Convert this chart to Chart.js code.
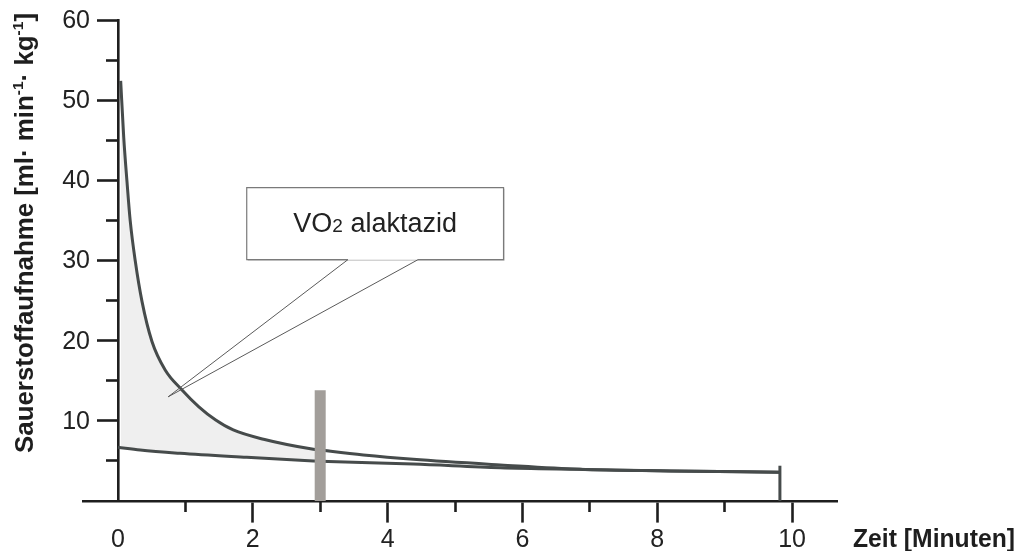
<!DOCTYPE html>
<html>
<head>
<meta charset="utf-8">
<script src="https://cdn.jsdelivr.net/npm/chart.js@4.4.0/dist/chart.umd.min.js"></script>
<style>
  html, body { margin: 0; padding: 0; background: #fff; }
</style>
</head>
<body>
<canvas id="myChart" width="1022" height="551"></canvas>
<script>
// Sauerstoffaufnahme (ml/min/kg) over Zeit (Minuten)
const upperX = [0.04, 0.085, 0.134, 0.182, 0.257, 0.356, 0.504, 0.7, 0.95, 1.2, 1.45, 1.71, 2.16, 2.9, 3, 3.64, 4.38, 5.67, 6.85, 8.2, 9.82];
const upperY = [52.4, 45.4, 39.8, 34.9, 29.9, 24.9, 19.9, 16.35, 13.85, 11.75, 10.1, 8.86, 7.7, 6.45, 6.35, 5.74, 5.2, 4.5, 3.95, 3.75, 3.58];
const lowerX = [0, 0.33, 0.92, 1.91, 2.9, 3, 4.38, 5.67, 6.85, 8.2, 9.82];
const lowerY = [6.7, 6.35, 5.95, 5.45, 4.99, 4.95, 4.6, 4.15, 3.95, 3.75, 3.58];

// gray bar at 3 min and end marker
const barX = [3, 3];
const barY = [0, 13.8];
const endX = [9.82, 9.82];
const endY = [0, 4.4];

const fillUntil = 3;

const xMajorTicks = [0, 2, 4, 6, 8, 10];
const xMinorTicks = [1, 3, 5, 7, 9];
const yMajorTicks = [10, 20, 30, 40, 50, 60];
const yMinorTicks = [5, 15, 25, 35, 45, 55];

const calloutText = ['VO', '2', ' alaktazid'];
const xTitle = 'Zeit [Minuten]';
const yTitle = [['Sauerstoffaufnahme [ml· min', false], ['-1', true], ['· kg', false], ['-1', true], [']', false]];

// callout placed in data units
const callout = { left: 1.91, right: 5.72, top: 39.1, bottom: 30.1, baseA: 3.41, baseB: 4.45, tipX: 0.745, tipY: 13.0 };

const family = '"Liberation Sans", Arial, sans-serif';
const axisColor = '#1e1e1e';
const lineColor = '#464b4b';

const pts = (xs, ys) => xs.map((x, i) => ({ x: x, y: ys[i] }));

const decor = {
  id: 'decor',
  afterDatasetsDraw(chart) {
    const ctx = chart.ctx;
    const xs = chart.scales.x, ys = chart.scales.y;
    const L = xs.getPixelForValue(callout.left), R = xs.getPixelForValue(callout.right);
    const T = ys.getPixelForValue(callout.top), B = ys.getPixelForValue(callout.bottom);
    const b1 = xs.getPixelForValue(callout.baseA), b2 = xs.getPixelForValue(callout.baseB);
    const tx = xs.getPixelForValue(callout.tipX), ty = ys.getPixelForValue(callout.tipY);
    ctx.save();
    ctx.fillStyle = '#fff';
    ctx.shadowColor = 'rgba(0,0,0,0.25)';
    ctx.shadowOffsetX = 1;
    ctx.shadowOffsetY = 1;
    ctx.fillRect(L, T, R - L, B - T);
    ctx.shadowColor = 'transparent';
    ctx.strokeStyle = '#7a7a7a';
    ctx.lineWidth = 1.2;
    ctx.beginPath();
    ctx.moveTo(b1, B); ctx.lineTo(L, B); ctx.lineTo(L, T); ctx.lineTo(R, T); ctx.lineTo(R, B); ctx.lineTo(b2, B);
    ctx.stroke();
    ctx.strokeStyle = '#5a5a5a';
    ctx.lineWidth = 1;
    ctx.beginPath();
    ctx.moveTo(b1, B); ctx.lineTo(tx, ty); ctx.lineTo(b2, B);
    ctx.stroke();

    // text
    const big = '27px ' + family, small = '19px ' + family;
    ctx.font = big;
    const w0 = ctx.measureText(calloutText[0]).width;
    const w2 = ctx.measureText(calloutText[2]).width;
    ctx.font = small;
    const w1 = ctx.measureText(calloutText[1]).width;
    let x = (L + R) / 2 - (w0 + w1 + w2) / 2;
    const base = (T + B) / 2 + 8;
    ctx.fillStyle = '#222';
    ctx.textBaseline = 'alphabetic';
    ctx.textAlign = 'left';
    ctx.font = big; ctx.fillText(calloutText[0], x, base); x += w0;
    ctx.font = small; ctx.fillText(calloutText[1], x, base); x += w1;
    ctx.font = big; ctx.fillText(calloutText[2], x, base);
    ctx.restore();
  },
  afterDraw(chart) {
    const ctx = chart.ctx;
    const ys = chart.scales.y;
    ctx.save();
    ctx.fillStyle = '#222';

    // y tick labels, right of the label column at the tick ends
    ctx.font = '25px ' + family;
    ctx.textAlign = 'right';
    ctx.textBaseline = 'middle';
    yMajorTicks.forEach(v => ctx.fillText(String(v), 90, ys.getPixelForValue(v) + 1));

    ctx.fillStyle = '#1e1e1e';
    ctx.textBaseline = 'alphabetic';
    ctx.textAlign = 'left';

    // x title
    ctx.font = 'bold 25px ' + family;
    const xw = ctx.measureText(xTitle).width;
    ctx.save();
    ctx.translate(853, 547);
    ctx.scale(162 / xw, 1);
    ctx.fillText(xTitle, 0, 0);
    ctx.restore();

    // y title with superscripts, rotated
    const bigF = 'bold 25px ' + family, supF = 'bold 15px ' + family;
    let total = 0;
    yTitle.forEach(([t, sup]) => { ctx.font = sup ? supF : bigF; total += ctx.measureText(t).width; });
    ctx.save();
    ctx.translate(33, 453);
    ctx.rotate(-Math.PI / 2);
    ctx.scale(440 / total, 1);
    let u = 0;
    yTitle.forEach(([t, sup]) => {
      ctx.font = sup ? supF : bigF;
      ctx.fillText(t, u, sup ? -10 : 0);
      u += ctx.measureText(t).width;
    });
    ctx.restore();
    ctx.restore();
  }
};

const ctx = document.getElementById('myChart').getContext('2d');
const myChart = new Chart(ctx, {
  type: 'line',
  data: {
    datasets: [
      {
        data: pts(barX, barY),
        borderColor: '#a29e9a',
        borderWidth: 11,
        borderCapStyle: 'butt',
        pointRadius: 0,
        fill: false,
        order: 0
      },
      {
        data: pts(endX, endY),
        borderColor: lineColor,
        borderWidth: 3,
        pointRadius: 0,
        fill: false,
        order: 1
      },
      {
        data: pts(upperX, upperY),
        borderColor: lineColor,
        borderWidth: 3,
        pointRadius: 0,
        cubicInterpolationMode: 'monotone',
        fill: '+1',
        backgroundColor: '#efefef',
        segment: {
          backgroundColor: c => c.p0.parsed.x < fillUntil ? '#efefef' : 'rgba(255,255,255,0)'
        },
        order: 2
      },
      {
        data: pts(lowerX, lowerY),
        borderColor: lineColor,
        borderWidth: 3,
        pointRadius: 0,
        cubicInterpolationMode: 'monotone',
        fill: false,
        order: 3
      }
    ]
  },
  options: {
    responsive: false,
    animation: false,
    devicePixelRatio: 1,
    layout: { padding: { left: 83, right: 185, top: 20, bottom: 50 } },
    plugins: {
      legend: { display: false },
      tooltip: { enabled: false },
      filler: { drawTime: 'beforeDatasetsDraw' }
    },
    scales: {
      x: {
        type: 'linear', axis: 'x', position: { y: 0 }, min: -0.519, max: 10.667,
        afterBuildTicks: s => { s.ticks = xMajorTicks.map(v => ({ value: v })); },
        border: { color: axisColor, width: 2.6 },
        grid: {
          drawOnChartArea: false, tickLength: 20, tickWidth: 2.6,
          tickColor: c => c.tick && c.tick.value === 0 ? 'rgba(0,0,0,0)' : axisColor
        },
        ticks: { font: { family: family, size: 25 }, color: '#222', padding: 4, maxRotation: 0 }
      },
      xMinor: {
        type: 'linear', axis: 'x', position: { y: 0 }, min: -0.519, max: 10.667,
        afterBuildTicks: s => { s.ticks = xMinorTicks.map(v => ({ value: v })); },
        border: { display: false },
        grid: { drawOnChartArea: false, tickLength: 11, tickWidth: 2.6, tickColor: axisColor },
        ticks: { display: false }
      },
      y: {
        type: 'linear', axis: 'y', position: { x: 0 }, min: 0, max: 60,
        afterBuildTicks: s => { s.ticks = yMajorTicks.map(v => ({ value: v })); },
        border: { color: axisColor, width: 2.6 },
        grid: { drawOnChartArea: false, tickLength: 20, tickWidth: 2.6, tickColor: axisColor },
        ticks: { display: false }
      },
      yMinor: {
        type: 'linear', axis: 'y', position: { x: 0 }, min: 0, max: 60,
        afterBuildTicks: s => { s.ticks = yMinorTicks.map(v => ({ value: v })); },
        border: { display: false },
        grid: { drawOnChartArea: false, tickLength: 12, tickWidth: 2.6, tickColor: axisColor },
        ticks: { display: false }
      }
    }
  },
  plugins: [decor]
});
</script>
</body>
</html>
